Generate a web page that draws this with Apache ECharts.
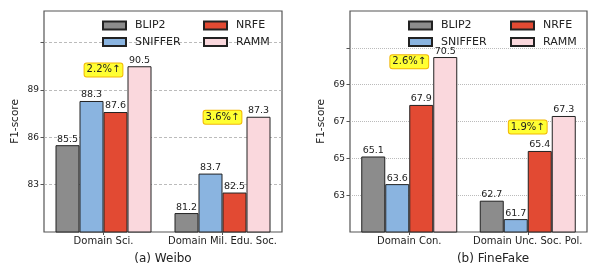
<!DOCTYPE html>
<html>
<head>
<meta charset="utf-8">
<script src="https://cdn.jsdelivr.net/npm/echarts@6/dist/echarts.min.js"></script>
<style>
  html, body { margin: 0; padding: 0; background: #fff; }
  #chart { width: 589px; height: 263px; }
</style>
</head>
<body>
<div id="chart"></div>
<script>
// data
var methods = ["BLIP2", "SNIFFER", "NRFE", "RAMM"];
var colors = ["#8c8c8c", "#8ab4e0", "#e24a33", "#fad8dd"];

var weiboDomains = ["Domain Sci.", "Domain Mil. Edu. Soc."];
var weiboBlip2 = [85.5, 81.2];
var weiboSniffer = [88.3, 83.7];
var weiboNrfe = [87.6, 82.5];
var weiboRamm = [90.5, 87.3];
var weiboGain = ["2.2%↑", "3.6%↑"];
var weiboGainAt = [90.27, 87.27];
var weiboTicks = [83, 86, 89, 92];
var weiboTickLabels = [83, 86, 89];

var fakeDomains = ["Domain Con.", "Domain Unc. Soc. Pol."];
var fakeBlip2 = [65.1, 62.7];
var fakeSniffer = [63.6, 61.7];
var fakeNrfe = [67.9, 65.4];
var fakeRamm = [70.5, 67.3];
var fakeGain = ["2.6%↑", "1.9%↑"];
var fakeGainAt = [70.24, 66.7];
var fakeTicks = [63, 65, 67, 69, 71];
var fakeTickLabels = [63, 65, 67, 69];

var font = "DejaVu Sans";

function barSeries(name, idx, data, gi) {
  return {
    name: name,
    type: "bar",
    xAxisIndex: gi,
    yAxisIndex: gi,
    data: data,
    barWidth: 24,
    barGap: "0%",
    itemStyle: { color: colors[idx], borderColor: "#222", borderWidth: 1 },
    label: {
      show: true,
      position: "top",
      distance: 1,
      fontSize: 9.5,
      fontFamily: font,
      color: "#222"
    }
  };
}

// the tag sits over the group centre, the RAMM bar is 36px right of it
function gainMarks(cats, texts, at) {
  return {
    symbol: "rect",
    symbolSize: 0,
    data: texts.map(function (t, i) {
      return { coord: [cats[i], at[i]], value: t };
    }),
    label: {
      show: true,
      position: "inside",
      offset: [-36, 0],
      formatter: "{c}",
      fontSize: 10,
      fontFamily: font,
      color: "#222",
      backgroundColor: "#ffff33",
      borderColor: "#f2b705",
      borderWidth: 1,
      borderRadius: 2,
      padding: [2, 2, 1, 2]
    }
  };
}

function yAxis(gi, min, max, ticks, labels, gridType) {
  return {
    type: "value",
    gridIndex: gi,
    min: min,
    max: max,
    name: "F1-score",
    nameLocation: "middle",
    nameGap: 23.5,
    nameTextStyle: { fontSize: 10.5, fontFamily: font, color: "#222" },
    axisLine: { show: false },
    axisTick: { show: true, length: 3.5, customValues: ticks, lineStyle: { color: "#555" } },
    axisLabel: { customValues: labels, fontSize: 9, fontFamily: font, color: "#222", margin: 5 },
    splitLine: { show: true, lineStyle: { color: "#aaa", width: 0.8, type: gridType } }
  };
}

function xAxis(gi, cats) {
  return {
    type: "category",
    gridIndex: gi,
    data: cats,
    axisLine: { show: false },
    axisTick: { show: true, alignWithLabel: true, length: 3, lineStyle: { color: "#555" } },
    axisLabel: { interval: 0, fontSize: 10, fontFamily: font, color: "#222", margin: 4 }
  };
}

function legend(data, left) {
  return {
    data: data,
    icon: "rect",
    orient: "vertical",
    left: left,
    top: 20,
    padding: 0,
    itemWidth: 23,
    itemHeight: 8,
    itemGap: 5.6,
    selectedMode: false,
    textStyle: { fontSize: 11, fontFamily: font, color: "#222", padding: [0, 0, 0, 4] }
  };
}

var weiboSeries = [
  barSeries("BLIP2", 0, weiboBlip2, 0),
  barSeries("SNIFFER", 1, weiboSniffer, 0),
  barSeries("NRFE", 2, weiboNrfe, 0),
  barSeries("RAMM", 3, weiboRamm, 0)
];
weiboSeries[3].markPoint = gainMarks(weiboDomains, weiboGain, weiboGainAt);

var fakeSeries = [
  barSeries("BLIP2", 0, fakeBlip2, 1),
  barSeries("SNIFFER", 1, fakeSniffer, 1),
  barSeries("NRFE", 2, fakeNrfe, 1),
  barSeries("RAMM", 3, fakeRamm, 1)
];
fakeSeries[3].markPoint = gainMarks(fakeDomains, fakeGain, fakeGainAt);

var myChart = echarts.init(document.getElementById("chart"));
var option = {
  animation: false,
  textStyle: { fontFamily: font },
  title: [
    { text: "(a) Weibo", left: 158, top: 248, textAlign: "center",
      textStyle: { fontSize: 12, fontWeight: "normal", fontFamily: font, color: "#222" } },
    { text: "(b) FineFake", left: 488, top: 248, textAlign: "center",
      textStyle: { fontSize: 12, fontWeight: "normal", fontFamily: font, color: "#222" } }
  ],
  legend: [
    legend(["BLIP2", "SNIFFER"], 102),
    legend(["NRFE", "RAMM"], 203),
    legend(["BLIP2", "SNIFFER"], 408),
    legend(["NRFE", "RAMM"], 510)
  ],
  grid: [
    { left: 44, top: 11, width: 238, height: 221, show: true, borderColor: "#555", borderWidth: 1.2 },
    { left: 350, top: 11, width: 237, height: 221, show: true, borderColor: "#555", borderWidth: 1.2 }
  ],
  xAxis: [xAxis(0, weiboDomains), xAxis(1, fakeDomains)],
  yAxis: [
    yAxis(0, 80, 94, weiboTicks, weiboTickLabels, [3, 2]),
    yAxis(1, 61, 73, fakeTicks, fakeTickLabels, [1, 1])
  ],
  series: weiboSeries.concat(fakeSeries)
};
myChart.setOption(option);
window.onresize = function () {
  myChart.resize();
};
</script>
</body>
</html>
